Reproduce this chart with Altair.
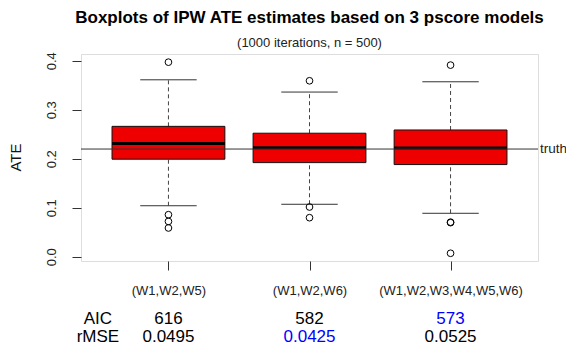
import altair as alt
import pandas as pd

# ---- data ----
models = ["(W1,W2,W5)", "(W1,W2,W6)", "(W1,W2,W3,W4,W5,W6)"]
positions = [1, 2, 3]
q1 = [0.199, 0.192, 0.188]
median = [0.231, 0.2224, 0.2218]
q3 = [0.266, 0.252, 0.2586]
whisker_low = [0.104, 0.107, 0.0886]
whisker_high = [0.361, 0.336, 0.357]
outliers_1 = [0.397, 0.0857, 0.072, 0.0586]
outliers_2 = [0.359, 0.1014, 0.0796]
outliers_3 = [0.391, 0.0705, 0.0695, 0.007]
truth = 0.2197
aic = ["616", "582", "573"]
rmse = ["0.0495", "0.0425", "0.0525"]
aic_colors = ["black", "black", "blue"]
rmse_colors = ["black", "blue", "black"]

FONT = "Liberation Sans"
BOX_HALF = 0.4
CAP_HALF = 0.2

boxes = pd.DataFrame({
    "pos": positions, "model": models, "q1": q1, "median": median, "q3": q3,
    "lo": whisker_low, "hi": whisker_high,
})
outs = pd.DataFrame({
    "pos": [1] * len(outliers_1) + [2] * len(outliers_2) + [3] * len(outliers_3),
    "value": outliers_1 + outliers_2 + outliers_3,
})
stats = pd.DataFrame({"pos": positions, "aic": aic, "rmse": rmse,
                      "aic_col": aic_colors, "rmse_col": rmse_colors})
row_labels = pd.DataFrame({"pos": [0.5, 0.5], "label": ["AIC", "rMSE"], "row": [0, 1]})
truth_df = pd.DataFrame({"y": [truth], "x": [3.62], "label": ["truth"]})

x_scale = alt.Scale(domain=[0.38, 3.62], nice=False, zero=False)
y_scale = alt.Scale(domain=[-0.00878, 0.41367], nice=False, zero=False)

label_expr = "[" + ",".join("'" + m + "'" for m in models) + "][datum.value - 1]"

x_axis = alt.Axis(values=positions, labelExpr=label_expr, grid=False, domain=False,
                  tickSize=9, tickColor="#333", labelPadding=14, labelFontSize=13,
                  labelColor="#222", title=None, labelFont=FONT)
y_axis = alt.Axis(values=[0, 0.1, 0.2, 0.3, 0.4], format=".1f", grid=False, domain=False,
                  tickSize=9, tickColor="#333", labelAngle=270, labelAlign="center",
                  labelBaseline="bottom", labelPadding=14, labelFontSize=13,
                  labelColor="#222", labelFont=FONT,
                  title="ATE", titleFontSize=15, titleFontWeight="normal",
                  titleColor="#111", titleFont=FONT, titleAngle=270,
                  titleAlign="center", titleBaseline="bottom", titleX=-58, titleY=103)

base = alt.Chart(boxes)

whisk_low = base.mark_rule(color="#444", strokeDash=[4, 3], strokeWidth=1).encode(
    x=alt.X("pos:Q", scale=x_scale, axis=x_axis),
    y=alt.Y("lo:Q", scale=y_scale, axis=y_axis),
    y2="q1:Q",
)
whisk_high = base.mark_rule(color="#444", strokeDash=[4, 3], strokeWidth=1).encode(
    x="pos:Q", y="q3:Q", y2="hi:Q",
)
caps_low = base.transform_calculate(
    a=f"datum.pos - {CAP_HALF}", b=f"datum.pos + {CAP_HALF}"
).mark_rule(color="#333", strokeWidth=1).encode(x="a:Q", x2="b:Q", y="lo:Q")
caps_high = base.transform_calculate(
    a=f"datum.pos - {CAP_HALF}", b=f"datum.pos + {CAP_HALF}"
).mark_rule(color="#333", strokeWidth=1).encode(x="a:Q", x2="b:Q", y="hi:Q")

box = base.transform_calculate(
    a=f"datum.pos - {BOX_HALF}", b=f"datum.pos + {BOX_HALF}"
).mark_rect(fill="#EE0000", stroke="#111", strokeWidth=1).encode(
    x="a:Q", x2="b:Q", y="q1:Q", y2="q3:Q",
)
med = base.transform_calculate(
    a=f"datum.pos - {BOX_HALF}", b=f"datum.pos + {BOX_HALF}"
).mark_rule(color="black", strokeWidth=3).encode(x="a:Q", x2="b:Q", y="median:Q")

points = alt.Chart(outs).mark_point(shape="circle", filled=False, stroke="black",
                                    strokeWidth=1, size=45, opacity=1).encode(
    x="pos:Q", y="value:Q",
)

truth_line = alt.Chart(truth_df).mark_rule(color="#333", strokeWidth=1).encode(y="y:Q")
truth_text = alt.Chart(truth_df).mark_text(
    align="left", baseline="middle", dx=2, fontSize=13.5, font=FONT, color="#222"
).encode(x="x:Q", y="y:Q", text="label:N")

ROW1, ROW2, ROWFS = 265, 283, 17
aic_text = alt.Chart(stats).mark_text(
    fontSize=ROWFS, font=FONT, baseline="middle", align="center"
).encode(x="pos:Q", y=alt.value(ROW1), text="aic:N",
         color=alt.Color("aic_col:N", scale=None))
rmse_text = alt.Chart(stats).mark_text(
    fontSize=ROWFS, font=FONT, baseline="middle", align="center"
).encode(x="pos:Q", y=alt.value(ROW2), text="rmse:N",
         color=alt.Color("rmse_col:N", scale=None))
lab_aic = alt.Chart(row_labels).transform_filter("datum.row == 0").mark_text(
    fontSize=ROWFS, font=FONT, baseline="middle", align="center", color="black"
).encode(x="pos:Q", y=alt.value(ROW1), text="label:N")
lab_rmse = alt.Chart(row_labels).transform_filter("datum.row == 1").mark_text(
    fontSize=ROWFS, font=FONT, baseline="middle", align="center", color="black"
).encode(x="pos:Q", y=alt.value(ROW2), text="label:N")

chart = alt.layer(
    whisk_low, whisk_high, caps_low, caps_high, box, med, points,
    truth_line, truth_text, aic_text, rmse_text, lab_aic, lab_rmse,
).properties(
    width=457, height=207,
    title=alt.TitleParams(
        text="Boxplots of IPW ATE estimates based on 3 pscore models",
        subtitle="(1000 iterations, n = 500)",
        fontSize=17, fontWeight="bold", font=FONT, color="black",
        subtitleFontSize=13, subtitleFont=FONT, subtitleColor="#222",
        anchor="middle", frame="group", offset=1, subtitlePadding=10,
    ),
    autosize=alt.AutoSizeParams(type="none"),
    padding={"left": 73, "top": 46, "right": 28, "bottom": 86},
).configure_view(stroke="#333", strokeWidth=1).configure(background="white")

chart.save("out.html", embed_options={"renderer": "svg", "actions": False})
